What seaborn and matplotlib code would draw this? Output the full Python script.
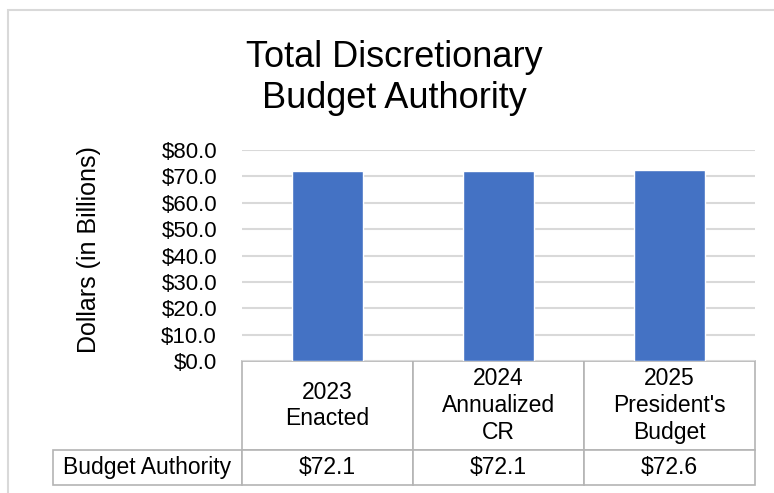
import matplotlib
matplotlib.use("Agg")
import matplotlib.pyplot as plt
import matplotlib.patches as patches
from matplotlib.table import Table
import seaborn as sns
import pandas as pd

# datos del grafico
categories = ["2023\nEnacted", "2024\nAnnualized\nCR", "2025\nPresident's\nBudget"]
budget_authority = [72.1, 72.1, 72.6]
value_labels = ["$72.1", "$72.1", "$72.6"]
row_label = "Budget Authority"
y_ticks = [0, 10, 20, 30, 40, 50, 60, 70, 80]

BAR_COLOR = "#4472C4"
GRID_COLOR = "#d9d9d9"
TABLE_EDGE = "#b4b4b4"

sns.set_theme(style="white")
plt.rcParams["font.family"] = ["Liberation Sans", "DejaVu Sans"]
plt.rcParams["text.color"] = "black"
plt.rcParams["axes.labelcolor"] = "black"
plt.rcParams["ytick.color"] = "black"

df = pd.DataFrame({"categoria": categories, "valor": budget_authority})

fig = plt.figure(figsize=(7.74, 4.93), dpi=100)
H = 493.0
W = 774.0
ax = fig.add_axes([242 / W, 1 - 361 / H, 513 / W, 211 / H])

sns.barplot(data=df, x="categoria", y="valor", color=BAR_COLOR,
            saturation=1, width=0.41, ax=ax)

ax.set_ylim(0, 80)
ax.set_yticks(y_ticks)
ax.set_yticklabels([f"${t:.1f}" for t in y_ticks], fontsize=16)
ax.set_xticks([])
ax.set_xlabel("")
ax.set_ylabel("Dollars (in Billions)", fontsize=18)
ax.yaxis.set_label_coords(-0.275, 0.53)
ax.tick_params(axis="y", length=0, pad=18)
ax.yaxis.grid(True, color=GRID_COLOR, linewidth=1.5)
ax.set_axisbelow(True)
for s in ax.spines.values():
    s.set_visible(False)

# tabla de datos bajo el grafico
h0 = 89 / 211
h1 = 35 / 211
tbl = Table(ax, bbox=[0, -(h0 + h1), 1, h0 + h1])
for j, cat in enumerate(categories):
    tbl.add_cell(0, j, width=1 / 3, height=h0, text=cat, loc="center",
                 edgecolor=TABLE_EDGE, facecolor="white")
    tbl.add_cell(1, j, width=1 / 3, height=h1, text=value_labels[j], loc="center",
                 edgecolor=TABLE_EDGE, facecolor="white")
tbl.add_cell(1, -1, width=189 / 513, height=h1, text=row_label, loc="center",
             edgecolor=TABLE_EDGE, facecolor="white")
tbl.auto_set_font_size(False)
tbl.set_fontsize(16.5)
for cell in tbl.get_celld().values():
    cell.set_linewidth(1.2)
    cell.get_text().set_color("black")
ax.add_table(tbl)

fig.text(394 / W, 1 - 78 / H, "Total Discretionary\nBudget Authority",
         ha="center", va="center", fontsize=26)

# marco exterior
fig.patches.append(patches.Rectangle((8 / W, -0.2), 1.2, 1.2 - 10 / H,
                                     transform=fig.transFigure, fill=False,
                                     edgecolor=GRID_COLOR, linewidth=1.5))

fig.savefig("out.png", dpi=100)
